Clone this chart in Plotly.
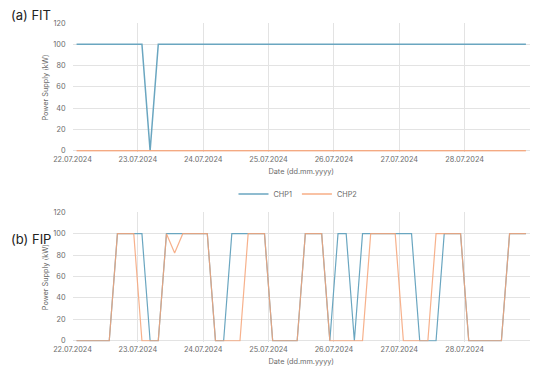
import pandas as pd
import plotly.graph_objects as go

# 3-hourly values, 22.07.2024 - 28.07.2024 (mid-interval timestamps)
times = pd.date_range("2024-07-22 01:30", periods=56, freq="3h")

fit_chp1 = [100] * 9 + [0] + [100] * 46
fit_chp2 = [0] * 56

fip_chp1 = ([0] * 5 + [100] * 4 + [0] * 2 + [100] * 6 + [0] * 2 + [100] * 5
            + [0] * 4 + [100] * 3 + [0] + [100] * 2 + [0] + [100] * 7
            + [0] * 3 + [100] * 3 + [0] * 5 + [100] * 3)
fip_chp2 = ([0] * 5 + [100] * 3 + [0] * 3 + [100, 82] + [100] * 4 + [0] * 4
            + [100] * 3 + [0] * 4 + [100] * 3 + [0] * 5 + [100] * 4
            + [0] * 4 + [100] * 4 + [0] * 5 + [100] * 3)

day_ticks = pd.date_range("2024-07-22", "2024-07-28", freq="D")
day_labels = [d.strftime("%d.%m.%Y") for d in day_ticks]

blue = "#6aa6c0"
orange = "#f6a478"
grid = "#e3e3e3"
font_name = "Inter, Liberation Sans, sans-serif"
tick_font = dict(family=font_name, size=7.3, color="#6a6a6a")

# page has an 8px body margin, so the figure is sized to fit the window
W, H = 542, 364

fig = go.Figure()

# (a) FIT
fig.add_trace(go.Scatter(x=times, y=fit_chp1, mode="lines", name="CHP1",
                         line=dict(color=blue, width=1.5), xaxis="x", yaxis="y"))
fig.add_trace(go.Scatter(x=times, y=fit_chp2, mode="lines", name="CHP2",
                         line=dict(color=orange, width=1.5), xaxis="x", yaxis="y",
                         opacity=0.9))

# (b) FIP
fig.add_trace(go.Scatter(x=times, y=fip_chp1, mode="lines", name="CHP1", showlegend=False,
                         line=dict(color=blue, width=1.2), xaxis="x2", yaxis="y2"))
fig.add_trace(go.Scatter(x=times, y=fip_chp2, mode="lines", name="CHP2", showlegend=False,
                         line=dict(color=orange, width=1.2), xaxis="x2", yaxis="y2",
                         opacity=0.85))

x_common = dict(
    range=["2024-07-22", "2024-07-29"],
    tickvals=day_ticks, ticktext=day_labels,
    showgrid=True, gridcolor=grid, gridwidth=1,
    showline=False, zeroline=False, ticks="", automargin=False,
    tickfont=tick_font, ticklabelstandoff=2,
    title=dict(text="Date (dd.mm.yyyy)", font=tick_font, standoff=5),
)
y_common = dict(
    range=[-1, 120], tickvals=[0, 20, 40, 60, 80, 100, 120],
    showgrid=True, gridcolor=grid, gridwidth=1,
    showline=False, zeroline=False, ticks="", automargin=False,
    tickfont=tick_font, ticklabelstandoff=6,
    title=dict(text="Power Supply (kW)", font=tick_font, standoff=3),
)

fig.update_layout(
    width=W, height=H,
    margin=dict(l=0, r=0, t=0, b=0, autoexpand=False),
    paper_bgcolor="white", plot_bgcolor="white",
    xaxis=dict(x_common, domain=[64.5 / W, 522 / W], anchor="y"),
    yaxis=dict(y_common, domain=[1 - 143.8 / H, 1 - 15 / H], anchor="x"),
    xaxis2=dict(x_common, domain=[64.5 / W, 522 / W], anchor="y2"),
    yaxis2=dict(y_common, domain=[1 - 333.8 / H, 1 - 204.3 / H], anchor="x2"),
    legend=dict(orientation="h", x=290 / W, xanchor="center", y=1 - 186 / H, yanchor="middle",
                font=tick_font, tracegroupgap=0),
    annotations=[
        dict(text="(a) FIT", x=1 / W, y=1 - 7 / H, xref="paper", yref="paper",
             xanchor="left", yanchor="middle", showarrow=False,
             font=dict(family=font_name, size=13, color="#222222")),
        dict(text="(b) FIP", x=1 / W, y=1 - 231 / H, xref="paper", yref="paper",
             xanchor="left", yanchor="middle", showarrow=False,
             font=dict(family=font_name, size=13, color="#222222")),
    ],
)

fig.write_html("out.html")
